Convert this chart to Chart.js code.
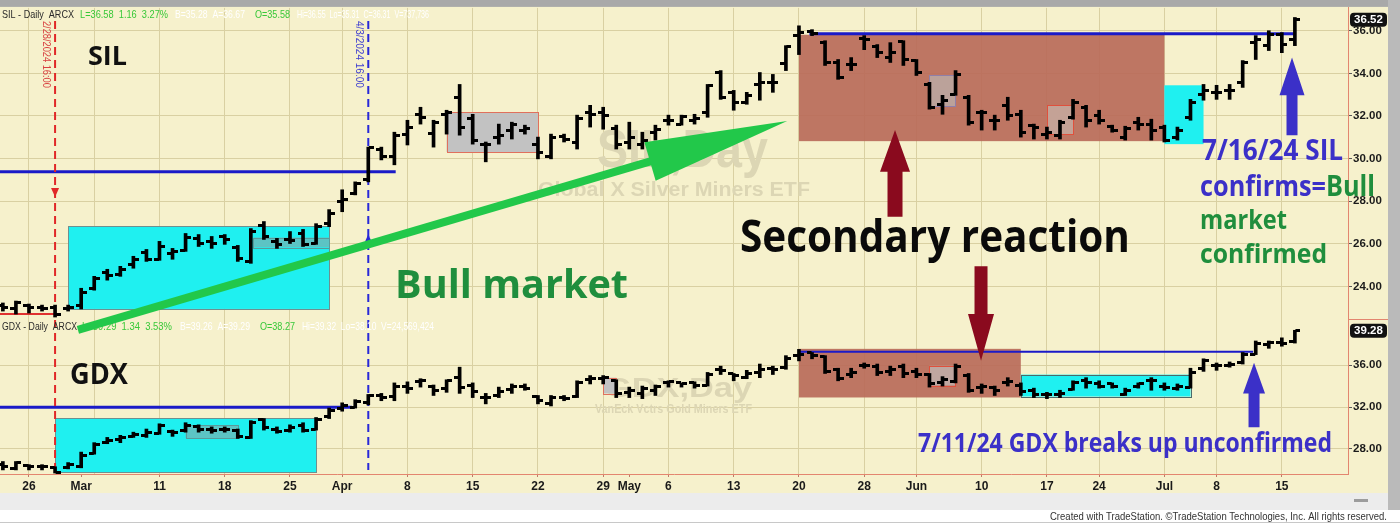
<!DOCTYPE html>
<html>
<head>
<meta charset="utf-8">
<script src="https://cdn.jsdelivr.net/npm/chart.js@4.4.1/dist/chart.umd.min.js"></script>
<style>
html,body{margin:0;padding:0;background:#ffffff;overflow:hidden;}
canvas{display:block;}
</style>
</head>
<body>
<canvas id="c" width="1400" height="523"></canvas>
<script>
// ---------------- DATA ----------------
const dates = ['2/22','2/23','2/26','2/27','2/28','2/29','3/1','3/4','3/5','3/6','3/7','3/8','3/11','3/12','3/13','3/14','3/15','3/18','3/19','3/20','3/21','3/22','3/25','3/26','3/27','3/28','4/1','4/2','4/3','4/4','4/5','4/8','4/9','4/10','4/11','4/12','4/15','4/16','4/17','4/18','4/19','4/22','4/23','4/24','4/25','4/26','4/29','4/30','5/1','5/2','5/3','5/6','5/7','5/8','5/9','5/10','5/13','5/14','5/15','5/16','5/17','5/20','5/21','5/22','5/23','5/24','5/28','5/29','5/30','5/31','6/3','6/4','6/5','6/6','6/7','6/10','6/11','6/12','6/13','6/14','6/17','6/18','6/20','6/21','6/24','6/25','6/26','6/27','6/28','7/1','7/2','7/3','7/5','7/8','7/9','7/10','7/11','7/12','7/15','7/16'];

const silOpen = [23.09,22.95,23.09,23.04,23.04,22.95,23.13,23.92,24.67,24.58,25.04,25.60,25.28,25.56,25.70,26.26,26.12,26.35,25.84,25.18,26.86,26.12,26.21,26.49,26.02,26.95,27.98,28.35,29.00,30.45,30.08,31.15,32.08,31.20,32.08,32.88,31.90,30.68,31.01,31.34,31.34,30.64,30.08,31.06,30.78,32.18,32.18,31.43,30.78,30.68,31.24,31.80,31.62,31.80,32.18,34.04,33.11,32.64,33.48,33.58,34.46,35.77,35.95,35.44,34.51,34.41,35.63,35.25,34.74,35.49,34.60,33.48,32.55,33.02,32.88,32.18,31.80,32.50,32.08,31.57,31.15,31.10,31.94,32.41,32.04,31.52,31.01,31.71,31.62,31.48,31.01,31.94,33.02,33.11,33.20,33.58,35.44,35.30,35.81,35.58];
const silHigh = [23.23,23.32,23.18,23.13,23.13,23.13,23.92,24.48,24.81,24.95,25.42,25.74,26.12,25.79,26.49,26.44,26.35,26.44,25.93,26.72,27.05,26.26,26.58,26.68,26.95,27.61,28.54,28.91,30.54,30.54,31.24,31.80,32.41,31.80,32.27,33.48,32.08,30.78,31.62,31.71,31.57,31.01,31.15,31.15,32.04,32.50,32.41,31.57,31.71,31.24,31.57,32.04,32.04,32.08,33.48,34.13,33.20,33.11,34.04,33.95,35.30,36.23,36.05,35.53,34.65,34.74,35.77,35.35,35.44,35.53,34.65,33.58,32.97,34.13,32.97,32.27,32.04,32.88,32.27,31.62,31.48,31.80,32.78,32.50,32.27,31.57,31.52,31.94,31.85,31.57,31.48,32.78,33.48,33.44,33.48,34.60,35.77,36.00,35.91,36.62];
const silLow = [22.85,22.71,22.76,22.85,22.57,22.85,22.95,23.83,24.30,24.48,24.86,25.18,25.23,25.28,25.65,25.88,25.79,25.98,25.18,25.09,26.21,25.79,26.02,25.88,25.98,26.81,27.51,28.30,28.91,29.94,29.71,30.64,31.62,30.54,31.15,31.10,30.68,29.85,30.68,30.92,31.15,29.99,29.99,30.78,30.45,31.48,31.38,30.45,30.45,30.45,30.87,31.57,31.57,31.62,31.94,32.78,32.27,32.55,32.74,33.11,34.13,34.88,35.77,34.37,33.72,34.13,35.11,34.74,34.51,34.37,33.90,32.32,32.08,32.97,31.57,31.34,31.34,31.80,31.01,30.92,30.92,30.92,31.85,31.48,31.62,31.24,30.87,31.34,30.87,30.78,30.87,31.80,32.74,32.78,32.78,33.34,34.65,35.07,34.97,35.30];
const silClose = [23.04,23.27,23.04,22.99,22.71,23.04,23.74,24.39,24.53,24.81,25.28,25.28,25.88,25.65,26.30,26.02,26.02,26.21,25.32,26.58,26.35,25.98,26.16,25.98,26.81,27.42,28.07,28.82,30.50,30.08,31.10,31.48,31.94,31.71,32.18,31.48,30.87,30.68,31.10,31.62,31.43,30.31,31.01,30.92,31.90,32.08,32.04,30.64,31.01,30.87,31.38,31.80,31.99,31.90,33.44,32.88,32.64,32.97,33.58,33.58,35.25,35.91,35.86,34.51,33.81,34.41,35.58,34.97,34.97,34.65,34.04,32.41,32.74,33.95,31.71,32.18,31.80,32.04,31.24,31.48,31.24,31.71,32.64,31.80,31.80,31.34,31.43,31.62,31.34,30.87,31.34,32.64,33.20,33.11,33.20,34.51,35.58,35.81,35.35,36.52];

const gdxOpen = [26.5,26.1,26.4,26.3,26.2,26.2,26.3,27.6,28.6,28.9,29.2,29.3,29.5,29.7,29.8,30.1,29.9,29.9,29.8,29.1,30.8,29.9,29.8,30.2,29.9,31.1,31.9,32.0,32.4,33.1,33.0,34.0,34.4,34.0,33.8,34.8,34.1,32.9,33.1,33.7,34.0,33.0,32.3,32.9,33.0,34.6,34.7,34.5,33.4,33.3,33.6,34.3,34.3,34.3,34.1,35.6,35.2,34.8,35.3,35.7,35.8,36.9,37.2,36.8,35.6,35.1,36.0,35.9,35.4,35.9,35.4,35.1,34.3,34.4,35.0,33.9,33.9,34.3,34.1,33.6,33.2,33.2,33.7,34.5,34.2,34.2,33.2,34.0,34.5,34.0,33.8,33.9,35.7,36.0,36.0,36.2,37.0,38.0,38.2,38.27];
const gdxHigh = [26.8,26.8,26.5,26.5,26.3,26.7,27.7,28.6,29.1,29.3,29.6,29.9,30.4,29.8,30.5,30.3,30.1,30.1,29.9,30.7,30.9,30.1,30.3,30.5,31.0,31.9,32.4,32.7,33.2,33.3,34.3,34.4,34.7,34.1,34.6,35.8,34.3,33.3,33.9,34.2,34.2,33.1,33.1,33.1,34.5,35.0,35.0,34.6,33.9,34.0,34.1,34.5,34.3,34.4,35.3,35.9,35.2,35.5,36.1,35.9,36.9,37.5,37.2,36.9,35.7,35.7,36.2,36.1,35.9,36.1,35.7,35.2,34.9,36.1,35.2,34.2,34.0,34.8,34.3,33.8,33.4,33.6,34.5,34.8,34.5,34.3,33.8,34.3,34.8,34.3,34.2,35.7,36.6,36.2,36.3,37.2,38.3,38.3,38.6,39.32];
const gdxLow = [26.0,26.0,26.0,26.0,25.7,26.1,26.2,27.5,28.5,28.6,29.1,29.1,29.4,29.2,29.6,29.6,29.5,29.6,29.0,29.0,29.8,29.5,29.6,29.6,29.8,30.9,31.6,31.9,32.2,32.6,32.6,33.3,33.9,33.1,33.4,33.3,32.9,32.3,32.9,33.3,33.6,32.3,32.1,32.6,32.9,34.2,34.2,32.9,32.9,32.8,33.1,33.9,33.9,33.8,34.0,35.1,34.5,34.7,34.8,35.1,35.6,36.4,36.6,35.2,34.5,34.8,35.7,35.0,35.0,34.8,34.8,33.9,34.0,34.3,33.4,33.3,33.1,34.0,33.1,32.9,32.8,32.9,33.6,33.8,33.8,33.8,33.1,33.8,33.6,33.6,33.6,33.8,35.4,35.5,35.8,36.1,37.0,37.6,37.8,38.1];
const gdxClose = [26.3,26.7,26.3,26.3,25.8,26.5,27.4,28.4,28.8,29.1,29.4,29.6,30.2,29.6,30.2,29.9,29.8,29.9,29.2,30.5,30.0,29.7,30.0,29.8,30.8,31.7,32.1,32.5,33.1,32.9,34.0,33.8,34.5,33.6,34.5,33.9,33.5,32.9,33.5,34.0,33.8,32.6,32.9,32.8,34.3,34.7,34.8,33.3,33.6,33.8,34.0,34.4,34.2,34.1,35.1,35.5,35.0,35.2,35.6,35.6,36.6,37.0,36.9,35.4,34.7,35.3,36.0,35.3,35.6,35.2,35.1,34.2,34.6,35.9,33.6,34.0,33.6,34.4,33.5,33.2,33.2,33.3,34.3,34.3,34.0,34.0,33.6,34.2,34.5,33.9,34.0,35.3,36.4,36.0,36.1,37.0,38.1,38.2,38.1,39.28];

const tickDates  = ['2/26','3/1','3/11','3/18','3/25','4/1','4/8','4/15','4/22','4/29','5/1','5/6','5/13','5/20','5/28','6/3','6/10','6/17','6/24','7/1','7/8','7/15'];
const tickLabels = ['26','Mar','11','18','25','Apr','8','15','22','29','May','6','13','20','28','Jun','10','17','24','Jul','8','15'];
const gridDates  = ['2/26','3/4','3/11','3/18','3/25','4/1','4/8','4/15','4/22','4/29','5/6','5/13','5/20','5/28','6/3','6/10','6/17','6/24','7/1','7/8','7/15'];
const silTicks = [24,26,28,30,32,34,36];
const gdxTicks = [28,30,32,34,36,38];

// ---------------- HELPERS ----------------
const X = dates.map((d, i) => i);
const di = d => dates.indexOf(d);
const labelMap = new Map(tickDates.map((d, k) => [di(d), tickLabels[k]]));
const gridSet = new Set(gridDates.map(di));
const allTicks = Array.from(new Set([...labelMap.keys(), ...gridSet])).sort((a, b) => a - b);

const CREAM = '#f6f1cc', GRID = '#d9d0a2', AXIS = '#e3866f';
const BLUE = '#3b30c8', GREENT = '#1f8e3d', DRED = '#8a0a1e', GARROW = '#22c84a';
const FONT = '"Liberation Sans", Arial, sans-serif';
const BIG = '"Open Sans", "Noto Sans", sans-serif';
Chart.defaults.font.family = FONT;

function tickImg(side) {
  const c = document.createElement('canvas');
  c.width = 11; c.height = 3;
  const g = c.getContext('2d');
  g.fillStyle = '#000';
  if (side === 'L') g.fillRect(0, 0, 5, 3); else g.fillRect(6, 0, 5, 3);
  return c;
}
const openTick = tickImg('L'), closeTick = tickImg('R');

// annotation objects (positions in data coordinates: x = bar index, y = price)
const boxes = [
  {axis:'ySIL', x0:5,  x1:25, y0:22.95, y1:26.82, fill:'#1ff0f0', stroke:'#6e9090'},
  {axis:'ySIL', x0:19.2,x1:25, y0:25.84, y1:26.30, fill:'#5cc4c4', stroke:'#5a9a9a'},
  {axis:'ySIL', x0:34, x1:41, y0:30.31, y1:32.18, fill:'#c2c2c2', stroke:'#e0705c'},
  {axis:'ySIL', x0:61, x1:89, y0:30.82, y1:35.81, fill:'rgba(184,104,88,0.9)', stroke:null},
  {axis:'ySIL', x0:71, x1:73, y0:32.46, y1:33.90, fill:'#bba29a', stroke:'#8f7fa8'},
  {axis:'ySIL', x0:80, x1:82, y0:31.15, y1:32.50, fill:'#c4a296', stroke:'#e0503c'},
  {axis:'ySIL', x0:89, x1:92, y0:30.68, y1:33.44, fill:'#1ff0f0', stroke:null},
  {axis:'yGDX', x0:4,  x1:24, y0:25.80, y1:30.93, fill:'#1ff0f0', stroke:'#6e9090'},
  {axis:'yGDX', x0:14, x1:18, y0:29.03, y1:30.27, fill:'#5cc4c4', stroke:'#5a9a9a'},
  {axis:'yGDX', x0:46, x1:47, y0:33.29, y1:34.80, fill:'#c2c2c2', stroke:'#e0705c'},
  {axis:'yGDX', x0:61, x1:78, y0:32.91, y1:37.55, fill:'rgba(184,104,88,0.9)', stroke:null},
  {axis:'yGDX', x0:71, x1:73, y0:34.05, y1:35.94, fill:'#bfa7a0', stroke:'#e0503c'},
  {axis:'yGDX', x0:78, x1:91, y0:33.00, y1:35.09, fill:'#1ff0f0', stroke:'#4a6a6a'}
];
const levels = [
  {axis:'ySIL', x0:-0.22, x1:30.1, v:29.38, color:'#1a1ac8', w:3},
  {axis:'ySIL', x0:61.8,  x1:98.9, v:35.86, color:'#1a1ac8', w:3},
  {axis:'ySIL', x0:-0.22, x1:4,    v:22.71, color:'#e03030', w:2},
  {axis:'yGDX', x0:-0.22, x1:26.75,v:31.97, color:'#1a1ac8', w:3},
  {axis:'yGDX', x0:61,    x1:95.8, v:37.27, color:'#1a1ac8', w:2}
];
const notes = [
  {t:'SIL', axis:'ySIL', i:6.52, v:34.37, size:27, w:39, color:'#111'},
  {t:'GDX', axis:'yGDX', i:5.14, v:34.24, size:28, w:58, color:'#111'},
  {t:'Bull market', axis:'ySIL', i:30.05, v:23.46, size:39, w:233, color:GREENT},
  {t:'Secondary reaction', axis:'ySIL', i:56.48, v:25.62, size:44, w:390, color:'#0a0a0a'},
  {t:'7/16/24 SIL', axis:'ySIL', i:91.89, v:29.94, size:28, w:141, color:BLUE},
  {t:'market', axis:'ySIL', i:91.73, v:26.68, size:27, w:87, color:GREENT},
  {t:'confirmed', axis:'ySIL', i:91.73, v:25.09, size:27, w:127, color:GREENT},
  {t:'7/11/24 GDX breaks up unconfirmed', axis:'yGDX', i:70.12, v:27.70, size:26, w:414, color:BLUE}
];

function fitText(ctx, txt, x, y, font, width, color) {
  ctx.save();
  ctx.font = font;
  const w = ctx.measureText(txt).width;
  const s = width ? width / w : 1;
  ctx.translate(x, y); ctx.scale(s, 1);
  ctx.fillStyle = color; ctx.textAlign = 'left'; ctx.textBaseline = 'alphabetic';
  ctx.fillText(txt, 0, 0);
  ctx.restore();
}
function blockArrow(ctx, x, yTip, yBase, yTail, hh, sh, color) {
  ctx.save(); ctx.fillStyle = color; ctx.beginPath();
  ctx.moveTo(x, yTip); ctx.lineTo(x + hh, yBase); ctx.lineTo(x + sh, yBase); ctx.lineTo(x + sh, yTail);
  ctx.lineTo(x - sh, yTail); ctx.lineTo(x - sh, yBase); ctx.lineTo(x - hh, yBase); ctx.closePath(); ctx.fill();
  ctx.restore();
}

const deco = {
  id: 'deco',
  beforeDraw(chart) {
    const ctx = chart.ctx, ca = chart.chartArea, xs = chart.scales.x, ys = chart.scales.ySIL;
    const W = chart.width, H = chart.height, axR = ys.right, rowB = xs.bottom;
    ctx.save();
    ctx.fillStyle = CREAM; ctx.fillRect(0, 0, W, H);
    ctx.fillStyle = '#a9a9a9'; ctx.fillRect(0, 0, W, ca.top - 1);
    ctx.fillStyle = '#ececec'; ctx.fillRect(0, rowB, axR, 17);
    ctx.fillStyle = '#ffffff'; ctx.fillRect(0, rowB + 17, W, H - rowB - 17);
    ctx.fillStyle = '#bababa'; ctx.fillRect(axR, 0, W - axR, rowB + 17);
    ctx.fillStyle = '#9c9c9c'; ctx.fillRect(axR - 34, rowB + 6, 14, 3);
    ctx.fillStyle = '#c8c8c8'; ctx.fillRect(0, H - 1, W, 1);
    fitText(ctx, 'Created with TradeStation. \u00A9TradeStation Technologies, Inc. All rights reserved.', axR - 338, H - 3, '11px ' + FONT, 337, '#333');
    ctx.restore();
  },
  beforeDatasetsDraw(chart) {
    const ctx = chart.ctx, xs = chart.scales.x;
    const P = (axis, i, v) => ({x: xs.getPixelForValue(i), y: chart.scales[axis].getPixelForValue(v)});
    ctx.save();
    // watermarks
    let p = P('ySIL', 45.52, 29.61);
    fitText(ctx, 'SIL,Day', p.x, p.y, 'bold 54px ' + FONT, 171, '#dcd6b4');
    p = P('ySIL', 41.0, 28.26);
    fitText(ctx, 'Global X Silver Miners ETF', p.x, p.y, 'bold 20px ' + FONT, 272, '#dcd6b4');
    p = P('yGDX', 46.14, 33.0);
    fitText(ctx, 'GDX,Day', p.x, p.y, 'bold 27px ' + FONT, 147, '#dcd6b4');
    p = P('yGDX', 45.37, 31.39);
    fitText(ctx, 'VanEck Vctrs Gold Miners ETF', p.x, p.y, 'bold 12px ' + FONT, 157, '#dcd6b4');
    // boxes
    boxes.forEach(b => {
      const a = P(b.axis, b.x0, b.y1), c = P(b.axis, b.x1, b.y0);
      ctx.fillStyle = b.fill; ctx.fillRect(a.x, a.y, c.x - a.x, c.y - a.y);
      if (b.stroke) { ctx.strokeStyle = b.stroke; ctx.lineWidth = 1; ctx.strokeRect(Math.round(a.x) + 0.5, Math.round(a.y) + 0.5, Math.round(c.x - a.x), Math.round(c.y - a.y)); }
    });
    // level lines
    levels.forEach(l => {
      const a = P(l.axis, l.x0, l.v), c = P(l.axis, l.x1, l.v);
      ctx.strokeStyle = l.color; ctx.lineWidth = l.w; ctx.beginPath(); ctx.moveTo(a.x, a.y); ctx.lineTo(c.x, c.y); ctx.stroke();
    });
    // dashed date markers
    const ca = chart.chartArea;
    const dash = (i, color) => {
      const x = xs.getPixelForValue(i);
      ctx.strokeStyle = color; ctx.lineWidth = 2; ctx.setLineDash([8, 5]);
      ctx.beginPath(); ctx.moveTo(x, ca.top + 13); ctx.lineTo(x, ca.bottom - 4); ctx.stroke(); ctx.setLineDash([]);
      return x;
    };
    const xr = dash(di('2/28'), '#e02828');
    const xb = dash(di('4/3'), '#2828d8');
    const yr = chart.scales.ySIL.getPixelForValue(28.2);
    ctx.fillStyle = '#e02828'; ctx.beginPath(); ctx.moveTo(xr, yr); ctx.lineTo(xr - 4, yr - 9); ctx.lineTo(xr + 4, yr - 9); ctx.closePath(); ctx.fill();
    const yb = chart.scales.ySIL.getPixelForValue(26.45);
    ctx.fillStyle = '#2828d8'; ctx.beginPath(); ctx.moveTo(xb, yb); ctx.lineTo(xb - 4, yb + 9); ctx.lineTo(xb + 4, yb + 9); ctx.closePath(); ctx.fill();
    // rotated date labels
    const rot = (txt, x, color) => {
      ctx.save(); ctx.translate(x, ca.top + 13); ctx.rotate(Math.PI / 2);
      fitText(ctx, txt, 0, 0, '10px ' + FONT, 67, color);
      ctx.restore();
    };
    rot('2/28/2024 16:00', xr - 12, '#d84040');
    rot('4/3/2024 16:00', xb - 12, '#4040d0');
    ctx.restore();
  },
  afterDatasetsDraw(chart) {
    const ctx = chart.ctx, xs = chart.scales.x, ys = chart.scales.ySIL, yg = chart.scales.yGDX;
    const P = (axis, i, v) => ({x: xs.getPixelForValue(i), y: chart.scales[axis].getPixelForValue(v)});
    ctx.save();
    // panel separator in axis area
    ctx.strokeStyle = AXIS; ctx.lineWidth = 1;
    ctx.beginPath(); ctx.moveTo(ys.left, Math.round(ys.bottom) + 0.5); ctx.lineTo(ys.right, Math.round(ys.bottom) + 0.5); ctx.stroke();
    // headers
    const hdr = (y, parts) => {
      parts.forEach(([t, x, c, w]) => {
        ctx.save(); ctx.font = '11px ' + FONT; ctx.textBaseline = 'middle';
        const m = ctx.measureText(t).width; const s = w ? w / m : 1;
        ctx.translate(x, y); ctx.scale(s, 1); ctx.fillStyle = c; ctx.textAlign = 'left'; ctx.fillText(t, 0, 0); ctx.restore();
      });
    };
    const HG = '#38c838', HW = '#ffffff';
    hdr(ys.top + 7, [['SIL - Daily  ARCX', 2, '#2a2a2a', 72], ['L=36.58  1.16  3.27%', 80, HG, 88], ['B=35.28  A=36.67', 175, HW, 70], ['O=35.58', 255, HG, 35], ['Hi=36.55  Lo=35.31  C=36.31  V=737,736', 297, HW, 132]]);
    hdr(yg.top + 8, [['GDX - Daily  ARCX', 2, '#2a2a2a', 75], ['L=39.29  1.34  3.53%', 82, HG, 90], ['B=39.26  A=39.29', 180, HW, 70], ['O=38.27', 260, HG, 35], ['Hi=39.32  Lo=38.10  V=24,569,424', 302, HW, 132]]);
    // green arrow
    const s = P('yGDX', 5.75, 39.36), t = P('ySIL', 60.1, 31.76);
    const dx = t.x - s.x, dy = t.y - s.y, L = Math.hypot(dx, dy), ux = dx / L, uy = dy / L;
    const bx = t.x - ux * 143, by = t.y - uy * 143;
    ctx.strokeStyle = GARROW; ctx.lineWidth = 8; ctx.lineCap = 'butt';
    ctx.beginPath(); ctx.moveTo(s.x, s.y); ctx.lineTo(bx + ux * 10, by + uy * 10); ctx.stroke();
    ctx.fillStyle = GARROW; ctx.beginPath();
    ctx.moveTo(t.x, t.y); ctx.lineTo(bx - uy * 20, by + ux * 20); ctx.lineTo(bx + uy * 20, by - ux * 20); ctx.closePath(); ctx.fill();
    // dark red arrows
    const xu = xs.getPixelForValue(68.36);
    blockArrow(ctx, xu, ys.getPixelForValue(31.34), ys.getPixelForValue(29.38), ys.getPixelForValue(27.28), 15, 7.5, DRED);
    const xd = xs.getPixelForValue(74.95);
    blockArrow(ctx, xd, yg.getPixelForValue(36.42), ys.getPixelForValue(22.71), ys.getPixelForValue(24.95), 13, 6.5, DRED);
    // blue arrows
    const xs1 = xs.getPixelForValue(98.78);
    blockArrow(ctx, xs1, ys.getPixelForValue(34.74), ys.getPixelForValue(32.97), ys.getPixelForValue(31.10), 12.5, 5.5, BLUE);
    const xg1 = xs.getPixelForValue(95.87);
    blockArrow(ctx, xg1, yg.getPixelForValue(36.23), yg.getPixelForValue(33.29), yg.getPixelForValue(30.07), 11, 5.5, BLUE);
    // annotation texts
    notes.forEach(n => { const p = P(n.axis, n.i, n.v); fitText(ctx, n.t, p.x, p.y, 'bold ' + n.size + 'px ' + BIG, n.w, n.color); });
    // two-colour line
    {
      const p = P('ySIL', 91.73, 28.26);
      const f = 'bold 28px ' + BIG; ctx.font = f;
      const w1 = ctx.measureText('confirms=').width, w2 = ctx.measureText('Bull').width;
      const sc = 175 / (w1 + w2);
      fitText(ctx, 'confirms=', p.x, p.y, f, w1 * sc, BLUE);
      fitText(ctx, 'Bull', p.x + w1 * sc, p.y, f, w2 * sc, GREENT);
    }
    // last-price tags
    const tag = (scale, v, txt) => {
      const y = scale.getPixelForValue(v);
      ctx.fillStyle = '#111'; ctx.beginPath();
      if (ctx.roundRect) ctx.roundRect(scale.left + 2, y - 7, 37, 14, 4); else ctx.rect(scale.left + 2, y - 7, 37, 14);
      ctx.fill();
      ctx.fillStyle = '#fff'; ctx.font = 'bold 11.5px ' + FONT; ctx.textAlign = 'center'; ctx.textBaseline = 'middle';
      ctx.fillText(txt, scale.left + 20.5, y + 0.5);
    };
    tag(ys, silClose[silClose.length - 1], silClose[silClose.length - 1].toFixed(2));
    tag(yg, gdxClose[gdxClose.length - 1], gdxClose[gdxClose.length - 1].toFixed(2));
    ctx.restore();
  }
};

const yCommon = (min, max, weight, ticks) => ({
  type: 'linear', position: 'right', stack: 'panes', stackWeight: weight, min, max, bounds: 'data', offset: false,
  afterBuildTicks: s => { s.ticks = ticks.map(v => ({value: v})); },
  afterFit: s => { s.width = 40; },
  grid: {color: GRID, lineWidth: 1, tickLength: 4, tickColor: '#5a5a5a'},
  border: {color: AXIS, width: 1},
  ticks: {padding: 1, color: '#1a1a1a', font: {size: 11.5, weight: 'bold'}, callback: v => Number(v).toFixed(2)}
});

new Chart(document.getElementById('c'), {
  type: 'bar',
  data: {
    datasets: [
      {type: 'bar', yAxisID: 'ySIL', data: X.map((x, i) => ({x, y: [silLow[i], silHigh[i]]})), backgroundColor: '#000', barThickness: 3, grouped: false, borderWidth: 0},
      {type: 'line', yAxisID: 'ySIL', data: X.map((x, i) => ({x, y: silOpen[i]})), showLine: false, pointStyle: openTick, pointRadius: 3, pointHoverRadius: 3},
      {type: 'line', yAxisID: 'ySIL', data: X.map((x, i) => ({x, y: silClose[i]})), showLine: false, pointStyle: closeTick, pointRadius: 3, pointHoverRadius: 3},
      {type: 'bar', yAxisID: 'yGDX', data: X.map((x, i) => ({x, y: [gdxLow[i], gdxHigh[i]]})), backgroundColor: '#000', barThickness: 3, grouped: false, borderWidth: 0},
      {type: 'line', yAxisID: 'yGDX', data: X.map((x, i) => ({x, y: gdxOpen[i]})), showLine: false, pointStyle: openTick, pointRadius: 3, pointHoverRadius: 3},
      {type: 'line', yAxisID: 'yGDX', data: X.map((x, i) => ({x, y: gdxClose[i]})), showLine: false, pointStyle: closeTick, pointRadius: 3, pointHoverRadius: 3}
    ]
  },
  options: {
    responsive: false, animation: false, events: [], devicePixelRatio: 1,
    layout: {autoPadding: false, padding: {top: 5, right: 12, bottom: 30, left: 0}},
    plugins: {legend: {display: false}, tooltip: {enabled: false}},
    scales: {
      x: {
        type: 'linear', position: 'bottom', min: -0.22, max: 103.07, bounds: 'data', offset: false,
        afterBuildTicks: s => { s.ticks = allTicks.map(v => ({value: v})); },
        afterFit: s => { s.height = 19; },
        grid: {offset: false, lineWidth: 1,
          color: c => (c.tick && gridSet.has(c.tick.value)) ? GRID : 'rgba(0,0,0,0)',
          tickLength: 3,
          tickColor: c => (c.tick && labelMap.has(c.tick.value)) ? '#c07a68' : 'rgba(0,0,0,0)'},
        border: {color: AXIS, width: 1},
        ticks: {autoSkip: false, maxRotation: 0, minRotation: 0, padding: 2, color: '#1a1a1a', font: {size: 12, weight: 'bold'},
          callback: v => labelMap.has(v) ? labelMap.get(v) : ''}
      },
      ySIL: yCommon(22.48, 37.07, 313, silTicks),
      yGDX: yCommon(25.61, 40.40, 156, gdxTicks)
    }
  },
  plugins: [deco]
});
</script>
</body>
</html>
